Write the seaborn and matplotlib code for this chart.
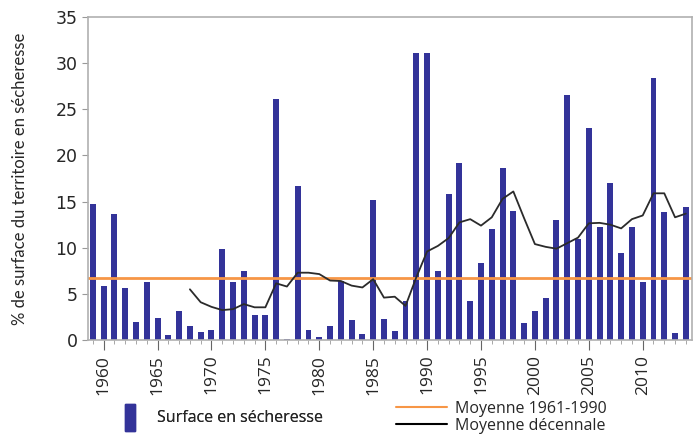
import numpy as np
import pandas as pd
import seaborn as sns
import matplotlib.pyplot as plt
from matplotlib.patches import Rectangle
from matplotlib.lines import Line2D
from matplotlib.ticker import MultipleLocator

years = list(range(1959, 2015))
surface = [14.7, 5.9, 13.7, 5.6, 2.0, 6.3, 2.4, 0.6, 3.2, 1.5,
           0.9, 1.1, 9.9, 6.3, 7.5, 2.7, 2.7, 26.1, 0.1, 16.7,
           1.1, 0.3, 1.5, 6.4, 2.2, 0.7, 15.2, 2.3, 1.0, 4.2,
           31.1, 31.1, 7.5, 15.8, 19.2, 4.2, 8.4, 12.0, 18.6, 14.0,
           1.9, 3.1, 4.6, 13.0, 26.6, 10.9, 23.0, 12.3, 17.0, 9.4,
           12.3, 6.3, 28.4, 13.9, 0.8, 14.4]

decade_years = list(range(1968, 2015))
decade_mean = [5.5, 4.1, 3.6, 3.25, 3.35, 3.9, 3.55, 3.55, 6.15, 5.8,
               7.3, 7.3, 7.15, 6.45, 6.4, 5.9, 5.7, 6.6, 4.6, 4.7,
               3.7, 6.8, 9.6, 10.2, 11.05, 12.75, 13.1, 12.4, 13.3, 15.3,
               16.1, 13.2, 10.4, 10.1, 9.9, 10.5, 11.1, 12.65, 12.7, 12.5,
               12.1, 13.1, 13.5, 15.9, 15.9, 13.3, 13.7]

ref_mean = 6.75

bar_color = "#333399"
orange = "#F79646"

sns.set_style("white")
fig = plt.figure(figsize=(6.93, 4.36), dpi=100)
ax = fig.add_axes([0.127, 0.22, 0.872, 0.741])

df = pd.DataFrame({"year": years, "surface": surface})
sns.barplot(data=df, x="year", y="surface", native_scale=True, width=0.55,
            color=bar_color, saturation=1, linewidth=0, ax=ax)
ax.axhline(ref_mean, color=orange, lw=2)
sns.lineplot(x=decade_years, y=decade_mean, color="#2b2b2b", lw=1.3, ax=ax)

ax.set_xlim(1958.55, 2014.6)
ax.set_ylim(0, 35)
ax.xaxis.set_minor_locator(MultipleLocator(1))
ax.yaxis.set_major_locator(MultipleLocator(5))
ax.set_xticks(range(1960, 2015, 5))
ax.set_xticklabels([str(y) for y in range(1960, 2015, 5)], rotation=90,
                   fontsize=12.5, family="Open Sans")
ax.tick_params(axis="y", labelsize=12.5, length=4, color="#999999",
               direction="out", left=True)
ax.tick_params(axis="x", which="major", length=7, color="#666666",
               direction="out", bottom=True)
ax.tick_params(axis="x", which="minor", length=3, color="#999999",
               direction="out", bottom=True)
ax.set_xlabel("")
ax.set_ylabel("% de surface du territoire en sécheresse", fontsize=12,
              family="Lato", labelpad=20)
for s in ax.spines.values():
    s.set_color("#b0b0b0")
    s.set_linewidth(1.2)

bar_handle = Rectangle((0, 0), 1, 1, color=bar_color)
leg1 = fig.legend([bar_handle], ["Surface en sécheresse"],
                  loc="center left", bbox_to_anchor=(0.16, 0.043),
                  frameon=False, prop={"family": "Open Sans", "size": 11.5},
                  handlelength=0.6, handleheight=2.2, handletextpad=1.4)
fig.add_artist(leg1)
fig.legend([Line2D([], [], color=orange, lw=1.5),
            Line2D([], [], color="black", lw=1.5)],
           ["Moyenne 1961-1990", "Moyenne décennale"],
           loc="center left", bbox_to_anchor=(0.55, 0.043), frameon=False,
           prop={"family": "Open Sans", "size": 11.5},
           handlelength=3.2, labelspacing=0.05, handletextpad=0.5)

fig.savefig("out.png", dpi=100)
